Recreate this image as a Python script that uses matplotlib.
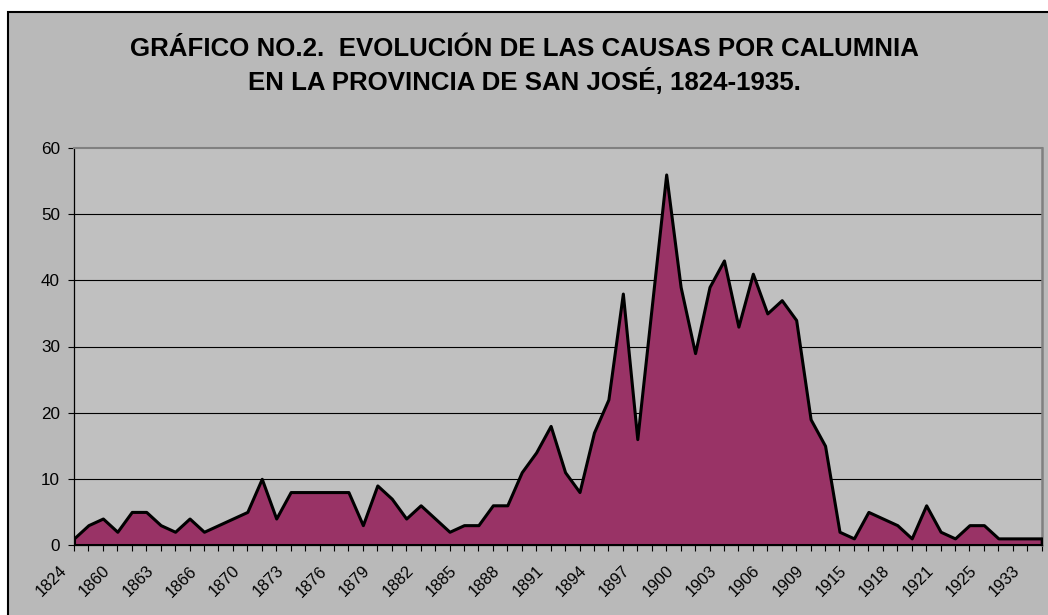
import numpy as np
import matplotlib.pyplot as plt
from matplotlib.patches import Rectangle
from matplotlib.transforms import ScaledTranslation

plt.rcParams['font.family'] = ['Liberation Sans', 'DejaVu Sans']

# categorias (anios) y numero de causas por calumnia
years = [1824, 1850, 1858, 1860, 1861, 1862, 1863, 1864, 1865, 1866,
         1867, 1868, 1870, 1871, 1872, 1873, 1874, 1875, 1876, 1877,
         1878, 1879, 1880, 1881, 1882, 1883, 1884, 1885, 1886, 1887,
         1888, 1889, 1890, 1891, 1892, 1893, 1894, 1895, 1896, 1897,
         1898, 1899, 1900, 1901, 1902, 1903, 1904, 1905, 1906, 1907,
         1908, 1909, 1910, 1912, 1915, 1916, 1917, 1918, 1919, 1920,
         1921, 1922, 1923, 1925, 1927, 1930, 1933, 1935]
causas = [1, 3, 4, 2, 5, 5, 3, 2, 4, 2,
          3, 4, 5, 10, 4, 8, 8, 8, 8, 8,
          3, 9, 7, 4, 6, 4, 2, 3, 3, 6,
          6, 11, 14, 18, 11, 8, 17, 22, 38, 16,
          36, 56, 39, 29, 39, 43, 33, 41, 35, 37,
          34, 19, 15, 2, 1, 5, 4, 3, 1, 6,
          2, 1, 3, 3, 1, 1, 1, 1]
yticks = [0, 10, 20, 30, 40, 50, 60]
label_step = 3

W, H = 1048, 615
fig = plt.figure(figsize=(W / 100, H / 100), dpi=100, facecolor='white')

# fondo del area del grafico (estilo Excel)
chart_bg = Rectangle((7.5 / W, -0.1), 1.2, 1.1 - 12.5 / H,
                     transform=fig.transFigure, facecolor='#B9B9B9',
                     edgecolor='black', linewidth=1.5, zorder=-10)
fig.patches.append(chart_bg)

ax = fig.add_axes([74 / W, 1 - 545 / H, (1041.7 - 74) / W, (545 - 148) / H])
ax.set_facecolor('#C0C0C0')

x = np.arange(len(causas))
ax.fill_between(x, 0, causas, facecolor='#993366', edgecolor='black',
                linewidth=2.2, zorder=3)

ax.set_xlim(0, len(causas) - 1)
ax.set_ylim(0, 60)
ax.set_yticks(yticks)
for v in yticks[1:-1]:
    ax.axhline(v, color='black', linewidth=0.8, zorder=1)

ax.set_xticks(x)
ax.set_xticklabels([str(y) if i % label_step == 0 else '' for i, y in enumerate(years)],
                   rotation=45, ha='right', va='baseline', rotation_mode='anchor')
ax.tick_params(axis='x', length=4, width=0.8, pad=15.2, labelsize=11.8)
ax.tick_params(axis='y', length=4, width=0.8, pad=6, labelsize=12.3)
shift = ScaledTranslation(-0.065, 0, fig.dpi_scale_trans)
for lab in ax.get_xticklabels():
    lab.set_transform(lab.get_transform() + shift)

ax.spines['left'].set_linewidth(0.9)
ax.spines['bottom'].set_linewidth(0.9)
ax.spines['top'].set_color('#808080')
ax.spines['top'].set_linewidth(1.5)
ax.spines['right'].set_color('#808080')
ax.spines['right'].set_linewidth(1.8)

fig.text(524 / W, 1 - 66 / H,
         'GRÁFICO NO.2.  EVOLUCIÓN DE LAS CAUSAS POR CALUMNIA\n'
         'EN LA PROVINCIA DE SAN JOSÉ, 1824-1935.',
         ha='center', va='center', fontsize=18.6, fontweight='bold',
         linespacing=1.3)

fig.savefig('out.png', dpi=100, facecolor='white')
